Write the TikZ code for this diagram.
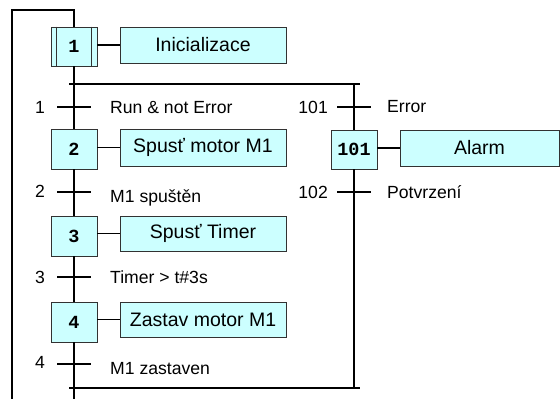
\documentclass[tikz,border=0pt]{standalone}
\usepackage{fontspec}
\setmainfont{Liberation Sans}
\setmonofont{Liberation Mono}
\definecolor{boxfill}{RGB}{204,255,255}
\definecolor{boxline}{RGB}{50,50,50}
\tikzset{
  stepbox/.style={draw=boxline, fill=boxfill, line width=0.9pt, minimum width=46pt, inner sep=0pt,
    font=\ttfamily\bfseries\fontsize{18.5}{20}\selectfont},
  actbox/.style={draw=boxline, fill=boxfill, line width=0.9pt, inner sep=0pt,
    font=\fontsize{19.5}{21}\selectfont},
  trnum/.style={anchor=east, inner sep=0pt, font=\fontsize{17.6}{19}\selectfont},
  trtext/.style={anchor=west, inner sep=0pt, font=\fontsize{17.6}{19}\selectfont},
  wire/.style={line width=1.1pt, black},
}
\begin{document}
\begin{tikzpicture}[x=1pt, y=-1pt]
\useasboundingbox (0,0) rectangle (560,399);
% steps
\node[stepbox, minimum height=39pt] (s1) at (74,46.5) {1};
\node[stepbox, minimum height=40pt] (s2) at (74,149) {2};
\node[stepbox, minimum height=40pt] (s3) at (74,236) {3};
\node[stepbox, minimum height=40pt] (s4) at (74,322) {4};
\node[stepbox, minimum height=39pt] (s101) at (354,149.5) {101};
\draw[boxline, line width=0.8pt] ([xshift=6pt]s1.north west) -- ([xshift=6pt]s1.south west);
\draw[boxline, line width=0.8pt] ([xshift=-6pt]s1.north east) -- ([xshift=-6pt]s1.south east);
% actions
\node[actbox, minimum width=166pt, minimum height=36pt] (a1) at (203,45) {Inicializace};
\node[actbox, minimum width=166pt, minimum height=37pt] (a2) at (203,147.5) {Spusť motor M1};
\node[actbox, minimum width=166pt, minimum height=35pt] (a3) at (203,233.5) {Spusť Timer};
\node[actbox, minimum width=166pt, minimum height=35pt] (a4) at (203,319.5) {Zastav motor M1};
\node[actbox, minimum width=159pt, minimum height=36pt] (a101) at (479.5,148) {Alarm};
% action connectors
\foreach \a/\s in {a1/s1,a2/s2,a3/s3,a4/s4,a101/s101}
  \draw[wire] (\a.west) -- (\a.west -| \s.east);
% coordinates
\coordinate (top) at (74,10);
\coordinate (topl) at (12,10);
\coordinate (botl) at (12,399);
\coordinate (bot) at (74,399);
\coordinate (dl) at (69,84);
\coordinate (dr) at (360,84);
\coordinate (rtop) at (354,84);
\coordinate (cl) at (69,388);
\coordinate (cr) at (360,388);
\coordinate (rbot) at (354,388);
% main flow
\draw[wire] (s1.north) -- (top) -- (topl) -- (botl);
\draw[wire] (s1.south) -- (s2.north);
\draw[wire] (s2.south) -- (s3.north);
\draw[wire] (s3.south) -- (s4.north);
\draw[wire] (s4.south) -- (bot);
\draw[wire] (dl) -- (dr);
\draw[wire] (cl) -- (cr);
\draw[wire] (rtop) -- (s101.north);
\draw[wire] (s101.south) -- (rbot);
% transitions
\foreach \n/\x/\y in {t1/74/107, t2/74/192, t3/74/277, t4/74/364, t101/354/107, t102/354/192}{
  \coordinate (\n) at (\x,\y);
  \draw[wire] ([xshift=-17pt]\n) -- ([xshift=17pt]\n);
}
\node[trnum] (n1) at (45,107) {1};
\node[trnum] (n2) at (45,191) {2};
\node[trnum] (n3) at (45,277) {3};
\node[trnum] (n4) at (45,362) {4};
\node[trnum] (n101) at (328,107) {101};
\node[trnum] (n102) at (328,192) {102};
\node[trtext] (c1) at (110,107) {Run \& not Error};
\node[trtext] (c2) at (110,198) {M1 spuštěn};
\node[trtext] (c3) at (110,277) {Timer > t\#3s};
\node[trtext] (c4) at (110,369) {M1 zastaven};
\node[trtext] (c101) at (387,107) {Error};
\node[trtext] (c102) at (387,192) {Potvrzení};
\end{tikzpicture}
\end{document}
